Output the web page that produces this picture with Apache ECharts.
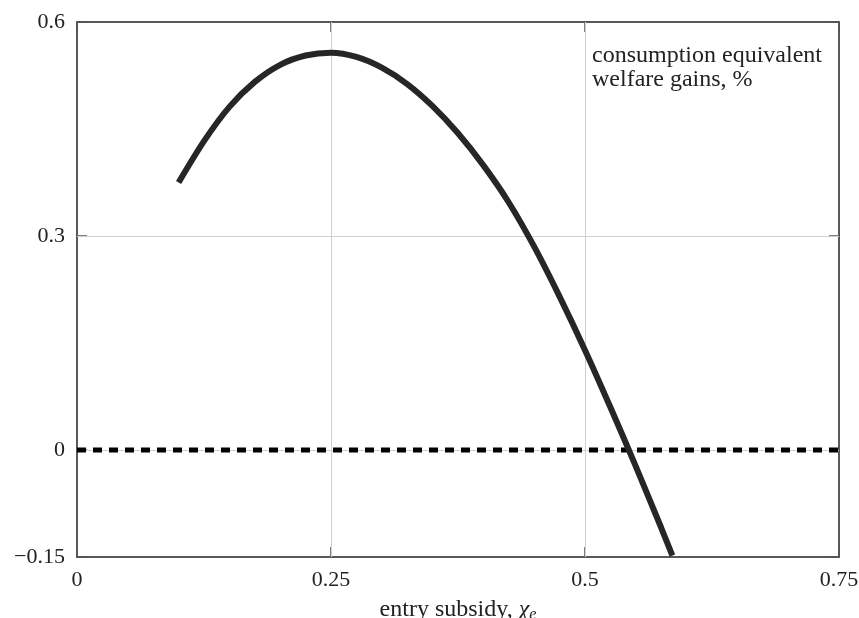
<!DOCTYPE html>
<html>
<head>
<meta charset="utf-8">
<script src="https://cdn.jsdelivr.net/npm/echarts@6/dist/echarts.min.js"></script>
<style>
  html, body { margin: 0; padding: 0; background: #fff; }
  #chart { width: 859px; height: 618px; }
</style>
</head>
<body>
<div id="chart"></div>
<script>
// welfare gains curve
const subsidy = [0.10, 0.125, 0.15, 0.175, 0.20, 0.225, 0.25, 0.275, 0.30, 0.325, 0.35,
    0.375, 0.40, 0.425, 0.45, 0.475, 0.50, 0.525, 0.55, 0.575, 0.586];
const gains = [0.375, 0.433, 0.481, 0.516, 0.540, 0.553, 0.557, 0.551, 0.536, 0.513, 0.482,
    0.444, 0.399, 0.347, 0.285, 0.215, 0.140, 0.060, -0.023, -0.109, -0.148];

// dashed zero reference
const zeroX = [0, 0.75];
const zeroY = [0, 0];

const xTicks = [0, 0.25, 0.5, 0.75];
const yTicks = [-0.15, 0, 0.3, 0.6];
const xGrid = [0.25, 0.5];
const yGrid = [0, 0.3];

const FONT = 'Liberation Serif';
const fmt = function (v) { return String(v).replace('-', '\u2212'); };

function axisBase(showLabel) {
    return {
        type: 'value',
        axisLine: { show: true, onZero: false, lineStyle: { color: '#222', width: 1.5 } },
        axisTick: { show: true, inside: true, length: 10, lineStyle: { color: '#555', width: 1.5 } },
        axisLabel: { show: showLabel, color: '#222', fontFamily: FONT, fontSize: 22, formatter: fmt },
        splitLine: { show: false }
    };
}

const chart = echarts.init(document.getElementById('chart'));

const xMain = axisBase(true);
Object.assign(xMain, {
    min: 0, max: 0.75, position: 'bottom',
    name: 'entry subsidy, {chi|χ}{sub|e}',
    nameLocation: 'middle', nameGap: 40,
    nameTextStyle: {
        color: '#222', fontFamily: FONT, fontSize: 24,
        rich: {
            chi: { fontFamily: FONT, fontSize: 24, fontStyle: 'italic', color: '#222' },
            sub: { fontFamily: FONT, fontSize: 16, fontStyle: 'italic', color: '#222', verticalAlign: 'bottom', padding: [10, 0, 0, 0] }
        }
    }
});
xMain.axisTick.customValues = xTicks;
xMain.axisLabel.customValues = xTicks;
xMain.axisLabel.margin = 12;

const xTop = axisBase(false);
Object.assign(xTop, { min: 0, max: 0.75, position: 'top' });
xTop.axisTick.customValues = xTicks;

const yMain = axisBase(true);
Object.assign(yMain, { min: -0.15, max: 0.6, position: 'left' });
yMain.axisTick.customValues = yTicks;
yMain.axisLabel.customValues = yTicks;
yMain.axisLabel.margin = 12;

const yRight = axisBase(false);
Object.assign(yRight, { min: -0.15, max: 0.6, position: 'right' });
yRight.axisTick.customValues = yTicks;

chart.setOption({
    animation: false,
    backgroundColor: '#fff',
    grid: { left: 77, right: 20, top: 22, bottom: 61, containLabel: false, outerBoundsMode: 'none' },
    xAxis: [xMain, xTop],
    yAxis: [yMain, yRight],
    graphic: [{
        type: 'text',
        left: 592, top: 44,
        style: {
            text: 'consumption equivalent\nwelfare gains, %',
            fontFamily: FONT, fontSize: 24, lineHeight: 24, fill: '#222'
        }
    }],
    series: [
        {
            type: 'line',
            name: 'grid',
            data: [],
            silent: true,
            markLine: {
                silent: true,
                z: 1,
                symbol: 'none',
                label: { show: false },
                lineStyle: { color: '#cfcfcf', width: 1, type: 'solid' },
                data: xGrid.map(function (v) { return { xAxis: v }; })
                    .concat(yGrid.map(function (v) { return { yAxis: v }; }))
            },
            z: 1
        },
        {
            type: 'line',
            name: 'zero',
            data: zeroX.map(function (x, i) { return [x, zeroY[i]]; }),
            showSymbol: false,
            lineStyle: { color: '#000', width: 5, type: [9, 7], cap: 'butt' },
            z: 3
        },
        {
            type: 'line',
            name: 'welfare',
            data: subsidy.map(function (x, i) { return [x, gains[i]]; }),
            smooth: 0.3,
            showSymbol: false,
            lineStyle: { color: '#262626', width: 6, cap: 'butt' },
            z: 4
        }
    ]
});
</script>
</body>
</html>
